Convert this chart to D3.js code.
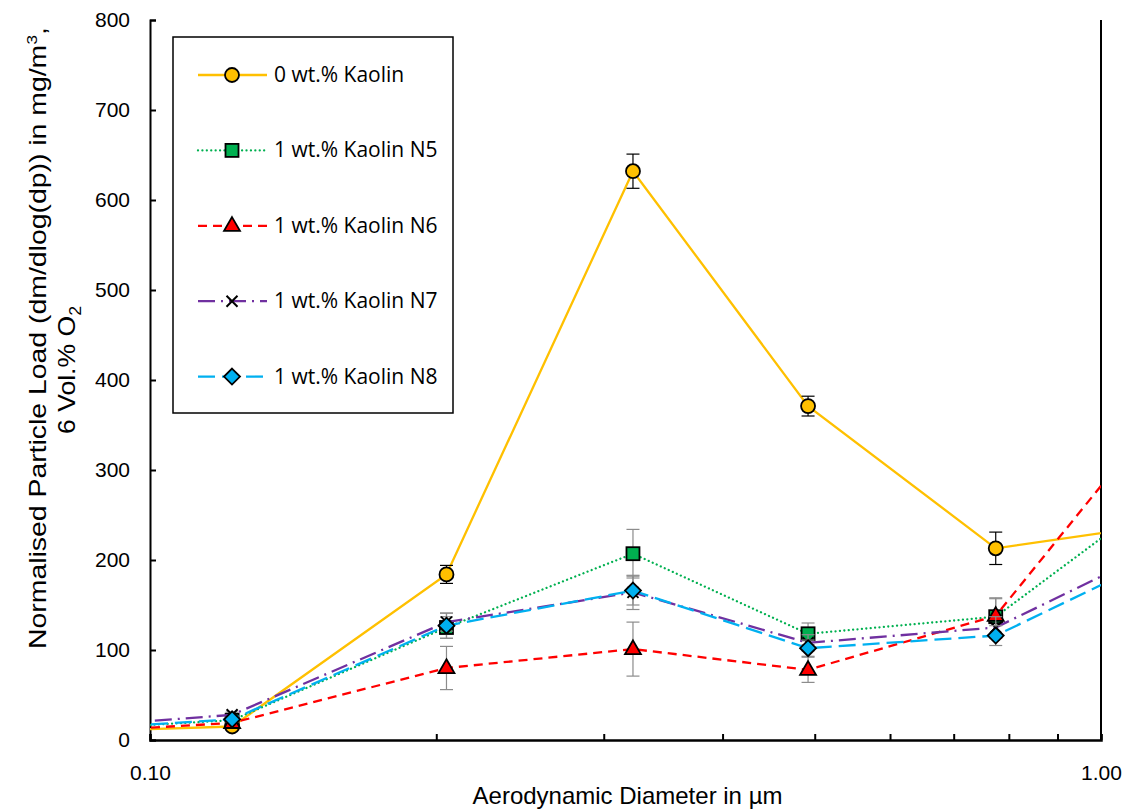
<!DOCTYPE html>
<html>
	<head>
		<meta charset="UTF-8" />
		<title>particle load</title>
		<script src="https://d3js.org/d3.v7.min.js"></script>
		<style>
			body{ margin:0; background:#fff; }
			text{ font-family: "Liberation Sans", Arial, sans-serif; fill:#000; }
			.tick-label{ font-size:21px; }
			.legend-text{ font-family: "Open Sans", "Liberation Sans", sans-serif; font-size:21px; }
		</style>
	</head>
	<body>

	<script type="text/javascript">
		// stage mid diameters in um (first and last lie outside the shown range)
		var diameters = [0.075, 0.122, 0.205, 0.322, 0.492, 0.775, 1.22];

		var kaolin0  = [8, 15, 184, 632, 371, 213, 243];
		var kaolinN5 = [9, 22, 125, 207, 118, 137, 292];
		var kaolinN6 = [6, 19, 80, 101, 78, 138, 395];
		var kaolinN7 = [11, 28, 131, 164, 108, 125, 226];
		var kaolinN8 = [9, 23, 127, 166, 102, 116, 216];

		var err0  = [0, 3, 10, 19, 11, 18, 0];
		var errN5 = [0, 3, 12, 27, 12, 20, 0];
		var errN6 = [0, 3, 24, 30, 14, 20, 0];
		var errN7 = [0, 3, 10, 19, 9, 12, 0];
		var errN8 = [0, 3, 14, 16, 9, 11, 0];

		var seriesNames = ["0 wt.% Kaolin", "1 wt.% Kaolin N5", "1 wt.% Kaolin N6", "1 wt.% Kaolin N7", "1 wt.% Kaolin N8"];
		var yTicks = [0, 100, 200, 300, 400, 500, 600, 700, 800];
		var xTickLabels = ["0.10", "1.00"];

		var width = 1125;
		var height = 810;
		var mLeft = 150, mRight = 1101, mTop = 20, mBottom = 740;

		var series = [
			{name: seriesNames[0], values: kaolin0,  err: err0,  color: "#FFC000", dash: null,       cap: "butt",  marker: "circle",   fill: "#FFC000", errColor: "#000"},
			{name: seriesNames[1], values: kaolinN5, err: errN5, color: "#00B050", dash: "0.01,4.4", cap: "round", marker: "square",   fill: "#00B050", errColor: "#8c8c8c"},
			{name: seriesNames[2], values: kaolinN6, err: errN6, color: "#FF0000", dash: "9,6",      cap: "butt",  marker: "triangle", fill: "#FF0000", errColor: "#8c8c8c"},
			{name: seriesNames[3], values: kaolinN7, err: errN7, color: "#7030A0", dash: "17,6,2,6", cap: "butt",  marker: "cross",    fill: "none",    errColor: "#8c8c8c"},
			{name: seriesNames[4], values: kaolinN8, err: errN8, color: "#00B0F0", dash: "17,7",     cap: "butt",  marker: "diamond",  fill: "#00B0F0", errColor: "#8c8c8c"}
		];

		var svg = d3.select("body").append("svg").attr("width", width).attr("height", height);

		var x = d3.scaleLog().domain([0.1, 1]).range([mLeft, mRight]);
		var y = d3.scaleLinear().domain([0, 800]).range([mBottom, mTop]);

		svg.append("clipPath").attr("id", "plot-clip")
			.append("rect").attr("x", mLeft).attr("y", mTop - 10).attr("width", mRight - mLeft).attr("height", mBottom - mTop + 20);

		// right border (major gridline at 1.0)
		svg.append("line").attr("x1", x(1)).attr("x2", x(1)).attr("y1", y(800)).attr("y2", y(0))
			.attr("stroke", "#000").attr("stroke-width", 2);

		// y axis
		var yAxis = d3.axisLeft(y).tickValues(yTicks).tickSize(-6).tickPadding(20).tickFormat(d3.format("d"));
		var gy = svg.append("g").attr("transform", "translate(" + mLeft + ",0)").call(yAxis);
		gy.attr("font-size", null).attr("font-family", null);
		gy.select(".domain").attr("stroke-width", 2);
		gy.selectAll(".tick line").attr("stroke-width", 2);
		gy.selectAll(".tick text").attr("class", "tick-label");

		// x axis (log, minor ticks inside)
		var minor = d3.range(2, 10).map(function(k){ return k / 10; });
		var xAxis = d3.axisBottom(x).tickValues([0.1].concat(minor).concat([1])).tickSize(-6).tickPadding(25)
			.tickFormat(function(d){ return d === 0.1 ? xTickLabels[0] : (d === 1 ? xTickLabels[1] : ""); });
		var gx = svg.append("g").attr("transform", "translate(0," + mBottom + ")").call(xAxis);
		gx.attr("font-size", null).attr("font-family", null);
		gx.select(".domain").attr("stroke-width", 2.5);
		gx.selectAll(".tick line").attr("stroke-width", 2);
		gx.selectAll(".tick text").attr("class", "tick-label");

		// axis titles
		svg.append("text").attr("x", (mLeft + mRight) / 2 + 2).attr("y", 804).attr("text-anchor", "middle")
			.style("font-size", "24px").text("Aerodynamic Diameter in µm");

		var yTitle = svg.append("g").attr("transform", "translate(46,338) rotate(-90)");
		var t1 = yTitle.append("text").attr("x", 0).attr("y", 0).attr("text-anchor", "middle")
			.attr("textLength", 622).attr("lengthAdjust", "spacingAndGlyphs").style("font-size", "24px");
		t1.append("tspan").text("Normalised Particle Load (dm/dlog(dp)) in mg/m");
		t1.append("tspan").attr("dy", -9).style("font-size", "15px").text("3");
		t1.append("tspan").attr("dy", 9).text(",");
		var t2 = yTitle.append("text").attr("x", -32).attr("y", 29).attr("text-anchor", "middle")
			.attr("textLength", 128).attr("lengthAdjust", "spacingAndGlyphs").style("font-size", "24px");
		t2.append("tspan").text("6 Vol.% O");
		t2.append("tspan").attr("dy", 6).style("font-size", "16px").text("2");

		function drawMarker(g, type, fill, cx, cy) {
			if (type === "circle") {
				g.append("circle").attr("cx", cx).attr("cy", cy).attr("r", 7)
					.attr("fill", fill).attr("stroke", "#000").attr("stroke-width", 1.8);
			} else if (type === "square") {
				g.append("rect").attr("x", cx - 6.5).attr("y", cy - 6.5).attr("width", 13).attr("height", 13)
					.attr("fill", fill).attr("stroke", "#000").attr("stroke-width", 1.8);
			} else if (type === "triangle") {
				g.append("path").attr("d", d3.symbol().type(d3.symbolTriangle).size(110)())
					.attr("transform", "translate(" + cx + "," + (cy + 0.5) + ")")
					.attr("fill", fill).attr("stroke", "#000").attr("stroke-width", 1.8);
			} else if (type === "diamond") {
				g.append("path").attr("d", "M0,-8L8,0L0,8L-8,0Z")
					.attr("transform", "translate(" + cx + "," + cy + ")")
					.attr("fill", fill).attr("stroke", "#000").attr("stroke-width", 1.8);
			} else if (type === "cross") {
				g.append("path").attr("d", "M-5.5,-5.5L5.5,5.5M-5.5,5.5L5.5,-5.5")
					.attr("transform", "translate(" + cx + "," + cy + ")")
					.attr("stroke", "#000").attr("stroke-width", 2);
			}
		}

		var line = d3.line()
			.x(function(d){ return x(d.x); })
			.y(function(d){ return y(d.y); });

		var plot = svg.append("g").attr("clip-path", "url(#plot-clip)");

		series.forEach(function(s) {
			var pts = diameters.map(function(dx, i){ return {x: dx, y: s.values[i], e: s.err[i]}; });
			var g = plot.append("g");
			g.append("path").datum(pts)
				.attr("d", line)
				.attr("fill", "none")
				.attr("stroke", s.color)
				.attr("stroke-width", 2.3)
				.attr("stroke-linecap", s.cap)
				.attr("stroke-dasharray", s.dash);

			var inside = pts.filter(function(p){ return p.x > 0.1 && p.x < 1; });
			var eb = g.append("g").attr("stroke", s.errColor).attr("stroke-width", 1.2);
			inside.forEach(function(p) {
				var cx = x(p.x);
				eb.append("line").attr("x1", cx).attr("x2", cx).attr("y1", y(p.y - p.e)).attr("y2", y(p.y + p.e));
				eb.append("line").attr("x1", cx - 6.5).attr("x2", cx + 6.5).attr("y1", y(p.y + p.e)).attr("y2", y(p.y + p.e));
				eb.append("line").attr("x1", cx - 6.5).attr("x2", cx + 6.5).attr("y1", y(p.y - p.e)).attr("y2", y(p.y - p.e));
			});
			inside.forEach(function(p) {
				drawMarker(g, s.marker, s.fill, x(p.x), y(p.y));
			});
		});

		// legend
		var legend = svg.append("g");
		legend.append("rect").attr("x", 173).attr("y", 37).attr("width", 280).attr("height", 376)
			.attr("fill", "#fff").attr("stroke", "#000").attr("stroke-width", 1.5);
		series.forEach(function(s, i) {
			var ly = 75 + i * 75.4;
			legend.append("line").attr("x1", 198).attr("x2", 267).attr("y1", ly).attr("y2", ly)
				.attr("stroke", s.color).attr("stroke-width", 2.3)
				.attr("stroke-linecap", s.cap).attr("stroke-dasharray", s.dash);
			drawMarker(legend, s.marker, s.fill, 232, ly);
			legend.append("text").attr("class", "legend-text").attr("x", 274).attr("y", ly + 7).text(s.name);
		});
	</script>

	</body>
</html>
